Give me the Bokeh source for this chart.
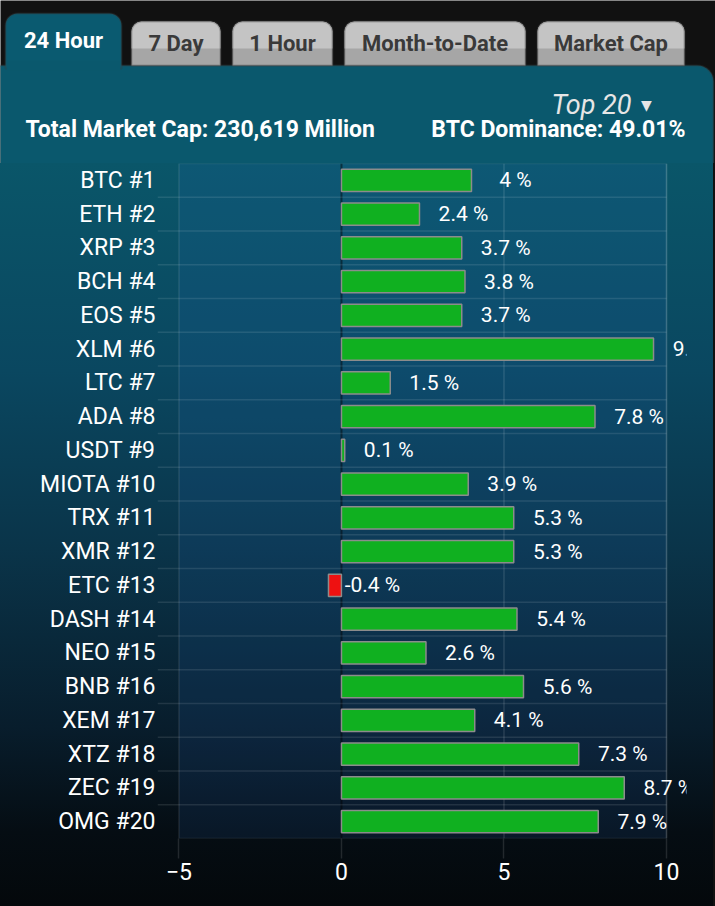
import re
from bokeh.plotting import figure
from bokeh.models import (FactorRange, Range1d, FixedTicker, Span, BoxAnnotation,
                          ColumnDataSource)
from bokeh.layouts import column
from bokeh.transform import dodge
from bokeh.core.properties import value
from bokeh.embed import file_html
from bokeh.resources import INLINE

# ---------------- data ----------------
coins = ["BTC #1", "ETH #2", "XRP #3", "BCH #4", "EOS #5", "XLM #6", "LTC #7",
         "ADA #8", "USDT #9", "MIOTA #10", "TRX #11", "XMR #12", "ETC #13",
         "DASH #14", "NEO #15", "BNB #16", "XEM #17", "XTZ #18", "ZEC #19",
         "OMG #20"]
changes = [4.0, 2.4, 3.7, 3.8, 3.7, 9.6, 1.5, 7.8, 0.1, 3.9, 5.3, 5.3, -0.4,
           5.4, 2.6, 5.6, 4.1, 7.3, 8.7, 7.9]
x_ticks = [-5, 0, 5, 10]
tabs = ["24 Hour", "7 Day", "1 Hour", "Month-to-Date", "Market Cap"]
active_tab = "24 Hour"
total_cap_text = "Total Market Cap: 230,619 Million"
dominance_text = "BTC Dominance: 49.01%"
top_n_text = "Top 20"

FONT = value("Roboto")
W = 715

# ---------------- header (tabs + summary) ----------------
HH = 163


def hx(wx):
    return wx


def hy(wy):
    return HH - wy


hdr = figure(width=W, height=HH, x_range=Range1d(0, W), y_range=Range1d(0, HH),
             output_backend="svg", toolbar_location=None, min_border=0,
             x_axis_location=None, y_axis_location=None,
             background_fill_color="#111111", border_fill_color="#111111",
             outline_line_color=None)
hdr.grid.visible = False

# panel top
hdr.add_layout(BoxAnnotation(left=hx(-4), right=hx(713), bottom=-10, top=hy(65),
                             fill_color="#0a586d", fill_alpha=1,
                             line_color="#3c3c3c", line_width=2,
                             border_radius=dict(top_left=0, top_right=16,
                                                bottom_right=0, bottom_left=0)))

tab_x0 = [5, 131, 232, 344, 537]
tab_x1 = [121, 220, 332, 525, 684]
tab_text_x, tab_text_y, tab_text_c = [], [], []
for name, a, b in zip(tabs, tab_x0, tab_x1):
    if name == active_tab:
        hdr.add_layout(BoxAnnotation(left=hx(a), right=hx(b), top=hy(13), bottom=hy(68),
                                     fill_color="#0a5a70", fill_alpha=1,
                                     line_color="#3c3c3c", line_width=2,
                                     border_radius=dict(top_left=12, top_right=12,
                                                        bottom_right=0, bottom_left=0)))
        hdr.add_layout(BoxAnnotation(left=hx(a) + 1.5, right=hx(b) - 1.5, top=hy(60), bottom=hy(70),
                                     fill_color="#0a586d", fill_alpha=1, line_color=None))
        tab_text_y.append(hy(40))
        tab_text_c.append("#ffffff")
    else:
        r = dict(top_left=10, top_right=10, bottom_right=0, bottom_left=0)
        hdr.add_layout(BoxAnnotation(left=hx(a), right=hx(b), top=hy(21), bottom=hy(65),
                                     fill_color="#a6a6a6", fill_alpha=1, line_color=None,
                                     border_radius=r))
        hdr.add_layout(BoxAnnotation(left=hx(a), right=hx(b), top=hy(21), bottom=hy(48),
                                     fill_color="#c4c4c4", fill_alpha=1, line_color=None,
                                     border_radius=r))
        hdr.add_layout(BoxAnnotation(left=hx(a), right=hx(b), top=hy(21), bottom=hy(65),
                                     fill_color=None, line_color="#4a4a4a", line_width=2,
                                     border_radius=r))
        tab_text_y.append(hy(43))
        tab_text_c.append("#3a3a3a")
    tab_text_x.append(hx((a + b) / 2))

hdr.text(x=tab_text_x, y=tab_text_y, text=tabs, text_color=tab_text_c,
         text_font=FONT, text_font_style="bold", text_font_size="22px",
         text_align="center", text_baseline="middle", level="overlay")

hdr.text(x=[hx(631)], y=[hy(104)], text=[top_n_text], text_color="#e6e6e6",
         text_font=FONT, text_font_style="italic", text_font_size="27px",
         text_align="right", text_baseline="middle", level="overlay")
hdr.text(x=[hx(646)], y=[hy(104)], text=["\u25bc"], text_color="#e6e6e6",
         text_font=value("DejaVu Sans"), text_font_size="14px",
         text_align="center", text_baseline="middle", level="overlay")
hdr.text(x=[hx(25)], y=[hy(129)], text=[total_cap_text], text_color="#ffffff",
         text_font=FONT, text_font_style="bold", text_font_size="23px",
         text_align="left", text_baseline="middle", level="overlay")
hdr.text(x=[hx(685)], y=[hy(129)], text=[dominance_text], text_color="#ffffff",
         text_font=FONT, text_font_style="bold", text_font_size="23px",
         text_align="right", text_baseline="middle", level="overlay")

# ---------------- chart ----------------
X0, X1 = -5.66, 10.615
src = ColumnDataSource(dict(
    coin=coins,
    change=changes,
    label=[f"{v:g} %" for v in changes],
    color=["#10b020" if v >= 0 else "#ee1111" for v in changes],
))
sep_src = ColumnDataSource(dict(coin=coins[:-1]))

CH = 906 - HH
p = figure(width=W, height=CH, y_range=FactorRange(factors=coins[::-1]),
           x_range=Range1d(X0, X1), output_backend="svg", toolbar_location=None,
           min_border_left=157, min_border_right=29, min_border_top=0,
           min_border_bottom=68, background_fill_color=None,
           border_fill_color=None, outline_line_color=None)
p.styles = {"background": "linear-gradient(180deg, #0a5669 0%, #0a4760 28%, "
                          "#0a3449 52%, #081d2c 76%, #050d13 90%, #04080b 100%)",
            "box-shadow": "inset -2px 0 0 #111111"}
p.grid.visible = False
for fig in (hdr, p):
    if hasattr(fig, "frame_align"):
        fig.frame_align = False

p.add_layout(BoxAnnotation(left=x_ticks[0], right=x_ticks[-1], fill_color="#2a6ec8",
                           fill_alpha=0.12, line_color="white", line_alpha=0.1,
                           line_width=1.5, level="underlay"))
for t in x_ticks[1:]:
    if t == 0:
        p.add_layout(Span(location=t, dimension="height", line_color="black",
                          line_alpha=0.45, line_width=2, level="underlay"))
    else:
        p.add_layout(Span(location=t, dimension="height", line_color="white",
                          line_alpha=0.12, line_width=1.5, level="underlay"))

p.segment(x0=X0, x1=x_ticks[-1],
          y0=dodge("coin", -0.5, range=p.y_range),
          y1=dodge("coin", -0.5, range=p.y_range),
          line_color="white", line_alpha=0.1, line_width=1.5, source=sep_src)

p.hbar(y="coin", left=0, right="change", height=0.66, fill_color="color",
       line_color="#8c8c8c", line_width=1.5, source=src)

p.text(x="change", y="coin", text="label", x_offset=44, text_align="center",
       text_baseline="middle", text_color="white", text_font_size="21px",
       text_font=FONT, source=src)

xa = p.xaxis[0]
xa.ticker = FixedTicker(ticks=x_ticks)
xa.axis_line_color = None
xa.major_tick_in = 0
xa.major_tick_out = 20
xa.major_tick_line_color = "white"
xa.major_tick_line_alpha = 0.12
xa.major_tick_line_width = 1.5
xa.minor_tick_line_color = None
xa.major_label_standoff = 4
xa.major_label_text_color = "white"
xa.major_label_text_font = "Roboto"
xa.major_label_text_font_size = "23px"

ya = p.yaxis[0]
ya.axis_line_color = None
ya.major_tick_line_color = None
ya.minor_tick_line_color = None
ya.major_tick_in = 0
ya.major_tick_out = 0
ya.major_label_standoff = 2
ya.major_label_text_color = "white"
ya.major_label_text_font = "Roboto"
ya.major_label_text_font_size = "23px"

layout = column(hdr, p, spacing=0)

html = file_html(layout, INLINE, title="Crypto 24 Hour")
html = re.sub(r"<body[^>]*>", '<body style="background-color:#111111;">', html, count=1)
open("out.html", "w").write(html)
